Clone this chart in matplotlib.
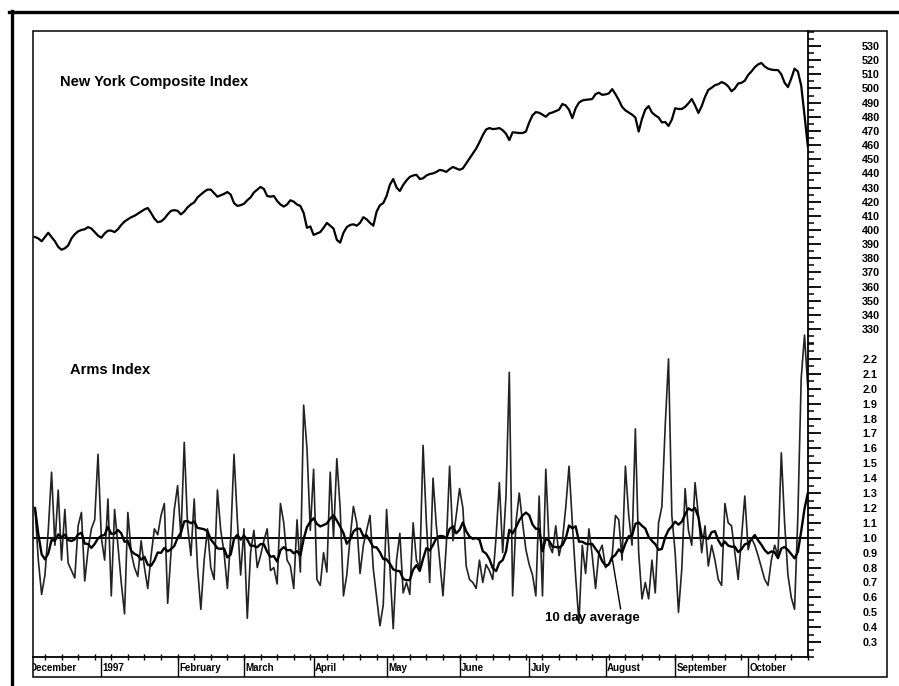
import matplotlib.pyplot as plt
import matplotlib as mpl
import numpy as np
import pandas as pd
from matplotlib.lines import Line2D
from matplotlib.patches import Rectangle
from matplotlib.ticker import MultipleLocator, FixedLocator, FormatStrFormatter

plt.rcParams['font.family'] = ['Liberation Sans', 'DejaVu Sans']
plt.rcParams['font.weight'] = 'bold'

# daily closes, NYSE Composite, Dec 4 1996 - Oct 27 1997
price = [
    395, 394, 392, 395, 398, 395, 392, 388, 386, 387,
    389, 394, 397, 399, 400, 400.5, 402, 401, 398.5, 396,
    394.5, 397.5, 399.5, 399.5, 398.5, 400.5, 403.5, 406, 407.5, 409,
    410, 411.5, 413, 414.5, 415.5, 412, 408, 405.5, 406, 408,
    411, 413.5, 414, 413.5, 411, 413, 416, 418, 419.5, 423,
    425, 427, 428.5, 428.5, 426, 423.5, 424.5, 425.5, 426.8, 425,
    419, 417, 417.5, 418.5, 421, 423, 426.5, 428.5, 430.4, 429,
    424, 423.5, 424, 420.5, 418, 416.5, 418, 421, 420, 418,
    417, 412, 401.5, 402.5, 396.5, 397.5, 398.5, 401.5, 405, 403,
    401, 393, 391, 398, 402, 403.5, 404, 403, 405, 409,
    407.5, 405, 403, 413, 417.5, 419, 424, 432, 436, 430,
    427.5, 431.8, 435, 437.5, 438.5, 439, 436, 436.5, 438.5, 439.5,
    440, 441, 442.4, 442, 441, 443, 444.5, 443.5, 442.5, 443.5,
    447, 450.5, 454, 457.5, 462, 467, 471, 472, 471.3, 471.5,
    472, 470.5, 468, 463.5, 469, 468.8, 468.5, 468.5, 469.5, 476,
    481, 483.3, 482.8, 481.5, 480, 482.3, 483, 484, 485, 489,
    488, 485, 479, 486, 490, 491.5, 492, 492.2, 492.5, 496,
    497, 495.5, 495.8, 496.5, 499.5, 496, 491.8, 487, 484.5, 483,
    481.5, 479.5, 469.5, 478.5, 485, 487.5, 483, 481, 479.5, 476,
    476.3, 473.5, 478, 486, 485.5, 485.5, 487, 489.5, 492.5, 488,
    482.7, 487.5, 494, 499, 500.5, 502.3, 503, 504.5, 503.5, 501.5,
    498, 500, 503.5, 504, 505.5, 509.5, 512, 515, 517, 518,
    515.5, 514, 513.3, 513, 513, 510, 504, 501, 507, 514,
    512, 502, 481, 459,
]

# daily Arms index (TRIN)
arms = [
    1.20, 0.85, 0.62, 0.75, 1.05, 1.44, 0.95, 1.32, 0.85, 1.19,
    0.83, 0.78, 0.73, 1.08, 1.17, 0.71, 0.92, 1.06, 1.12, 1.56,
    1.00, 0.85, 1.26, 0.61, 1.19, 0.95, 0.70, 0.49, 1.17, 0.90,
    0.80, 0.74, 0.98, 0.80, 0.66, 0.88, 1.06, 1.02, 1.15, 1.23,
    0.56, 0.90, 1.19, 1.35, 1.00, 1.64, 1.08, 0.88, 1.26, 0.80,
    0.52, 0.85, 1.06, 0.80, 0.72, 1.32, 1.05, 0.90, 0.66, 1.00,
    1.56, 1.12, 0.75, 1.06, 0.46, 0.90, 1.05, 0.80, 0.88, 0.98,
    1.06, 0.78, 0.80, 0.69, 1.23, 1.10, 0.85, 0.81, 0.66, 1.12,
    0.77, 1.89, 1.60, 1.05, 1.46, 0.72, 0.68, 0.90, 0.77, 1.44,
    1.00, 1.53, 1.20, 0.61, 0.75, 1.00, 1.21, 1.10, 0.76, 0.95,
    1.05, 1.15, 0.79, 0.60, 0.41, 0.55, 1.19, 0.80, 0.39, 0.85,
    1.03, 0.63, 0.70, 0.62, 1.10, 0.85, 0.80, 1.62, 1.10, 0.70,
    1.40, 1.08, 0.85, 0.61, 0.95, 1.48, 0.98, 1.15, 1.33, 1.20,
    0.81, 0.72, 0.70, 0.66, 0.85, 0.70, 0.82, 0.78, 0.72, 1.00,
    1.37, 0.90, 1.28, 2.11, 0.61, 1.10, 1.30, 1.10, 0.92, 0.82,
    0.75, 0.61, 1.28, 0.61, 1.46, 0.95, 0.90, 1.08, 0.88, 0.98,
    1.20, 1.48, 1.10, 0.74, 0.43, 0.95, 0.76, 1.06, 0.88, 0.66,
    0.90, 0.95, 0.80, 0.82, 0.88, 1.15, 1.12, 0.85, 1.48, 1.15,
    0.95, 1.73, 0.90, 0.59, 0.70, 0.59, 0.85, 0.63, 1.10, 1.21,
    1.75, 2.20, 1.15, 0.90, 0.50, 0.79, 1.33, 1.05, 0.95, 1.37,
    1.15, 0.90, 1.08, 0.81, 0.95, 0.85, 0.72, 0.68, 1.23, 1.10,
    1.08, 0.90, 0.72, 1.00, 1.28, 0.92, 1.00, 0.95, 0.88, 0.80,
    0.72, 0.68, 0.85, 0.95, 0.88, 1.57, 1.10, 0.75, 0.60, 0.52,
    1.15, 2.07, 2.36, 2.00,
]

start_day = '1996-12-04'
month_names = ['December', '1997', 'February', 'March', 'April', 'May',
               'June', 'July', 'August', 'September', 'October']
price_ticks = list(range(330, 531, 10))
arms_ticks = [round(v, 1) for v in np.arange(0.3, 2.25, 0.1)]

W, H = 899, 686
dates = pd.bdate_range(start_day, periods=len(price))
x = np.arange(len(price))
ma10 = pd.Series(arms).rolling(10, min_periods=1).mean().values

month_firsts = pd.date_range('1996-12-01', '1997-10-01', freq='BMS')
month_pos = np.busday_count(np.datetime64(start_day),
                            month_firsts.values.astype('datetime64[D]'))
mondays = x[dates.weekday == 0]


def fx(px):
    return px / W


def fy(py):
    return 1 - py / H


fig = plt.figure(figsize=(W / 100, H / 100), dpi=100)

# scanned page border and chart frame
fig.add_artist(Line2D([fx(9), fx(899)], [fy(12), fy(12)], color='black', lw=2.4))
fig.add_artist(Line2D([fx(12), fx(12)], [fy(11), fy(686)], color='black', lw=2.4))
fig.add_artist(Rectangle((fx(33), fy(677)), fx(887) - fx(33), fy(31) - fy(677),
                         fill=False, ec='black', lw=1.1, transform=fig.transFigure))

xl = (-0.6, len(price) - 0.95)
axw = (808 - 33) / W

# Price panel
ax1 = fig.add_axes([fx(33), fy(344), axw, (344 - 31) / H])
ax1.plot(x, price, color='black', lw=1.6)
ax1.set_xlim(*xl)
ax1.set_ylim(319.4, 540.6)
ax1.text(0.035, 0.837, 'New York Composite Index', transform=ax1.transAxes,
         fontsize=10.5, fontweight='bold', va='center')

# Arms panel
ax2 = fig.add_axes([fx(33), fy(657), axw, (657 - 344) / H])
ax2.axhline(1.0, color='black', lw=1.4)
ax2.plot(x, arms, color='#222222', lw=1.2, clip_on=False)
ax2.plot(x, ma10, color='black', lw=1.7)
ax2.set_xlim(*xl)
ax2.set_ylim(0.2, 2.3)
ax2.text(0.048, 0.917, 'Arms Index', transform=ax2.transAxes,
         fontsize=10.5, fontweight='bold', va='center')
ax2.annotate('10 day average', xy=(174, ma10[174]), xytext=(0.661, 0.125),
             textcoords='axes fraction', fontsize=9.5, fontweight='bold',
             va='center', ha='left',
             arrowprops=dict(arrowstyle='-', color='black', lw=1.0,
                             relpos=(0.8, 1.0), shrinkA=0, shrinkB=0))

for ax, ticks, minor, fmt in [(ax1, price_ticks, 5, '%d'),
                              (ax2, arms_ticks, 0.05, '%.1f')]:
    for s in ['left', 'top', 'bottom']:
        ax.spines[s].set_visible(False)
    ax.spines['right'].set_linewidth(1.3)
    ax.set_xticks([])
    ax.yaxis.tick_right()
    ax.yaxis.set_major_locator(FixedLocator(ticks))
    ax.yaxis.set_minor_locator(MultipleLocator(minor))
    ax.yaxis.set_major_formatter(FormatStrFormatter(fmt))
    ax.tick_params(axis='y', which='major', length=9, width=1.3, pad=30,
                   labelsize=7.8)
    ax.tick_params(axis='y', which='minor', length=4.5, width=1.1)
    ax.patch.set_alpha(0)

# month strip
ax3 = fig.add_axes([fx(33), fy(677), axw, 20 / H])
ax3.set_xlim(*xl)
ax3.set_ylim(0, 1)
for s in ['left', 'right', 'bottom']:
    ax3.spines[s].set_visible(False)
ax3.spines['top'].set_linewidth(1.3)
ax3.set_yticks([])
ax3.xaxis.set_ticks_position('top')
ax3.set_xticks([])
ax3.set_xticks(mondays, minor=True)
ax3.tick_params(axis='x', which='minor', direction='inout', length=4, width=1.0)
for pos, name in zip(month_pos, month_names):
    ax3.axvline(pos, color='black', lw=1.0)
    ax3.text(pos + 0.4, 0.45, name, fontsize=7, fontweight='bold',
             va='center', ha='left', clip_on=True)

fig.savefig('out.png', dpi=100)
